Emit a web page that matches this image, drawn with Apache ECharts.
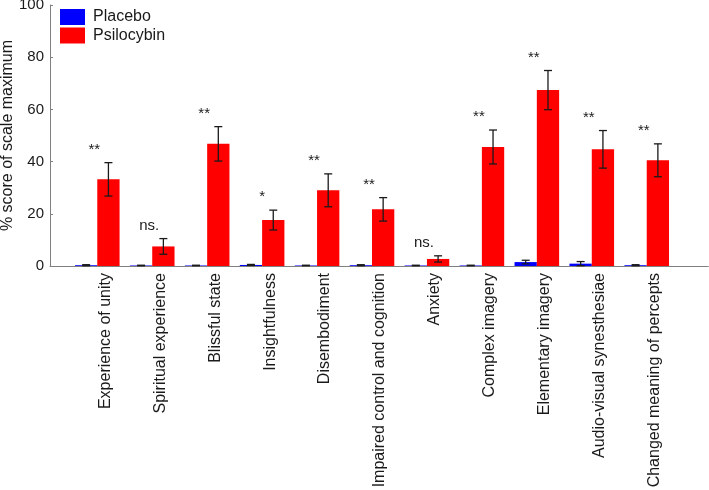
<!DOCTYPE html>
<html>
<head>
<meta charset="utf-8">
<script src="https://cdn.jsdelivr.net/npm/echarts@6/dist/echarts.min.js"></script>
<style>
  html, body { margin: 0; padding: 0; background: #fff; }
  #chart { width: 709px; height: 490px; }
</style>
</head>
<body>
<div id="chart"></div>
<script>
const categories = [
    'Experience of unity', 'Spiritual experience', 'Blissful state', 'Insightfulness',
    'Disembodiment', 'Impaired control and cognition', 'Anxiety', 'Complex imagery',
    'Elementary imagery', 'Audio-visual synesthesiae', 'Changed meaning of percepts'
];
const placeboMean = [0.3, 0.2, 0.2, 0.4, 0.2, 0.3, 0.2, 0.2, 1.5, 0.9, 0.3];
const placeboErr = [0.2, 0.1, 0.1, 0.2, 0.1, 0.2, 0.1, 0.1, 0.7, 0.8, 0.2];
const psiloMean = [33.2, 7.5, 46.8, 17.6, 29.0, 21.7, 2.7, 45.6, 67.4, 44.7, 40.5];
const psiloErr = [6.4, 3.0, 6.6, 3.8, 6.3, 4.5, 1.2, 6.5, 7.5, 7.2, 6.3];
const sigLabels = ['**', 'ns.', '**', '*', '**', '**', 'ns.', '**', '**', '**', '**'];

const FONT = 'Liberation Sans, Arial, Helvetica, sans-serif';
const TEXT = '#1a1a1a';
const AXIS = '#808080';
const BAR_W = 22.3;

const chart = echarts.init(document.getElementById('chart'));

// error bars drawn over the bars; optional significance text above the group
const errorBars = (shift, labels) => (params, api) => {
    const i = api.value(0);
    const mean = api.value(1);
    const err = api.value(2);
    const c = api.coord([i, mean]);
    const x = c[0] + shift;
    const top = api.coord([i, mean + err])[1];
    const bot = api.coord([i, mean - err])[1];
    const cap = 4;
    const ls = { stroke: '#1a1a1a', lineWidth: 1.3 };
    const children = [
        { type: 'line', shape: { x1: x, y1: top, x2: x, y2: bot }, style: ls },
        { type: 'line', shape: { x1: x - cap, y1: top, x2: x + cap, y2: top }, style: ls },
        { type: 'line', shape: { x1: x - cap, y1: bot, x2: x + cap, y2: bot }, style: ls }
    ];
    if (labels) {
        const t = labels[i];
        children.push({
            type: 'text',
            style: {
                text: t,
                x: c[0] - (t === '*' ? 0 : 3),
                y: top - 13,
                align: 'center',
                verticalAlign: 'middle',
                fontSize: 15,
                fontFamily: FONT,
                fill: TEXT
            }
        });
    }
    return { type: 'group', children };
};

const option = {
    animation: false,
    textStyle: { fontFamily: FONT },
    grid: [
        { left: 69.8, right: 34.8, top: 5, bottom: 224, outerBoundsMode: 'none' },
        { left: 50, right: 0.7, top: 5, bottom: 224, outerBoundsMode: 'none' }
    ],
    legend: {
        data: ['Placebo', 'Psilocybin'],
        orient: 'vertical',
        left: 55,
        top: 4,
        icon: 'rect',
        itemWidth: 25,
        itemHeight: 16,
        itemGap: 2.5,
        textStyle: { fontSize: 16, color: TEXT, fontFamily: FONT, lineHeight: 16, padding: [0, 0, 0, 3] }
    },
    xAxis: [
        {
            type: 'category',
            gridIndex: 0,
            data: categories,
            axisLine: { show: false },
            axisTick: { show: false },
            axisLabel: {
                interval: 0,
                rotate: 90,
                verticalAlign: 'top',
                margin: 7,
                fontSize: 16,
                color: TEXT,
                fontFamily: FONT
            }
        },
        {
            type: 'value',
            gridIndex: 1,
            min: 0,
            max: 1,
            axisLine: { show: true, lineStyle: { color: AXIS, width: 1 } },
            axisTick: { show: false },
            axisLabel: { show: false },
            splitLine: { show: false }
        }
    ],
    yAxis: [
        { type: 'value', gridIndex: 0, min: 0, max: 100, show: false },
        {
            type: 'value',
            gridIndex: 1,
            min: 0,
            max: 100,
            interval: 20,
            name: '% score of scale maximum',
            nameLocation: 'middle',
            nameGap: 34,
            nameMoveOverlap: false,
            nameTextStyle: { fontSize: 16, color: TEXT, fontFamily: FONT },
            axisLine: { show: true, lineStyle: { color: AXIS, width: 1 } },
            axisTick: { show: true, inside: true, length: 3, lineStyle: { color: AXIS } },
            axisLabel: { fontSize: 15, color: TEXT, margin: 6, fontFamily: FONT },
            splitLine: { show: false }
        }
    ],
    series: [
        {
            name: 'Placebo',
            type: 'bar',
            xAxisIndex: 0,
            yAxisIndex: 0,
            data: placeboMean,
            barWidth: BAR_W,
            barGap: '0%',
            itemStyle: { color: '#0000ff' }
        },
        {
            name: 'Psilocybin',
            type: 'bar',
            xAxisIndex: 0,
            yAxisIndex: 0,
            data: psiloMean,
            barWidth: BAR_W,
            barGap: '0%',
            itemStyle: { color: '#ff0000' }
        },
        {
            type: 'custom',
            xAxisIndex: 0,
            yAxisIndex: 0,
            z: 5,
            renderItem: errorBars(-BAR_W / 2, null),
            data: categories.map((c, i) => [i, placeboMean[i], placeboErr[i]])
        },
        {
            type: 'custom',
            xAxisIndex: 0,
            yAxisIndex: 0,
            z: 5,
            clip: false,
            renderItem: errorBars(BAR_W / 2, sigLabels),
            data: categories.map((c, i) => [i, psiloMean[i], psiloErr[i]])
        }
    ]
};

chart.setOption(option);
</script>
</body>
</html>
